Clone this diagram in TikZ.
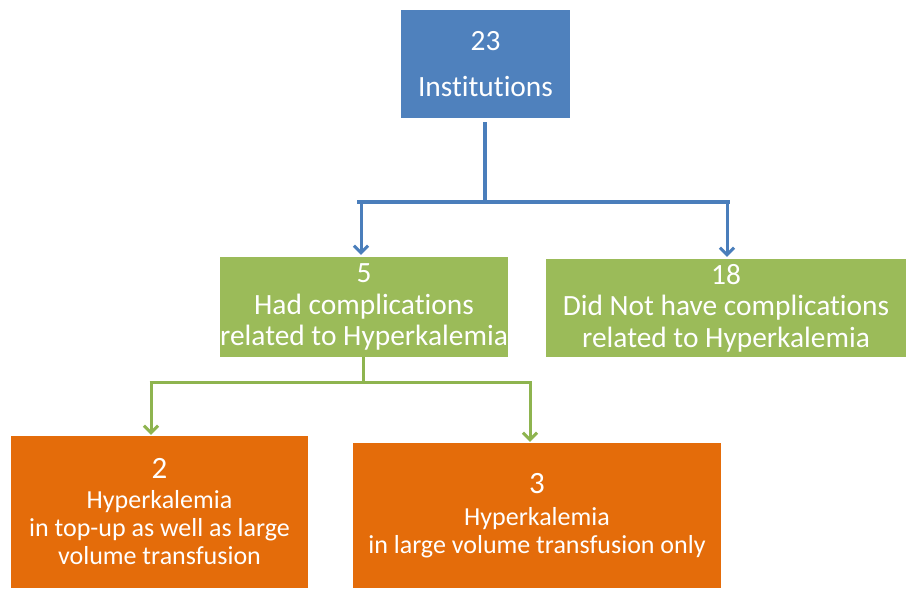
\documentclass[tikz,border=0pt]{standalone}
\usepackage{fontspec}
\setmainfont{Carlito}[RawFeature={-liga;-clig;-calt;-dlig;-rlig}]
\usetikzlibrary{arrows.meta}
\definecolor{cblue}{HTML}{4F81BD}
\definecolor{cgreen}{HTML}{9BBB59}
\definecolor{corange}{HTML}{E46C0A}
\definecolor{lblue}{HTML}{4A7EBB}
\definecolor{lgreen}{HTML}{8EB44F}
\begin{document}
\begin{tikzpicture}[x=1pt,y=1pt,
  box/.style={rectangle, inner sep=0pt, text=white, align=center},
  bline/.style={draw=lblue, line width=3.5pt},
  gline/.style={draw=lgreen, line width=3pt},
  barrow/.style={bline, line width=3pt, -{Straight Barb[length=7pt,width=14pt]}},
  garrow/.style={gline, -{Straight Barb[length=7pt,width=14pt]}},
  bigtxt/.style={font=\fontsize{29.4}{31.5}\selectfont},
  smalltxt/.style={font=\fontsize{26}{28}\selectfont}]
\useasboundingbox (0,0) rectangle (906,589);
\fill[white] (0,0) rectangle (906,589);
\node[box, fill=cblue, minimum width=169pt, minimum height=108pt, bigtxt] (top) at (485.5,525) {23\\[14pt]Institutions};
\node[box, fill=cgreen, minimum width=288pt, minimum height=100pt, bigtxt] (g1) at (364,282) {5\\Had complications\\related to Hyperkalemia};
\node[box, fill=cgreen, minimum width=360pt, minimum height=98pt, bigtxt] (g2) at (726,281) {18\\Did Not have complications\\related to Hyperkalemia};
\node[box, fill=corange, minimum width=297pt, minimum height=152pt, smalltxt] (oA) at (159.5,77) {{\fontsize{31}{31}\selectfont 2}\\[2pt]Hyperkalemia\\in top-up as well as large\\volume transfusion};
\node[box, fill=corange, minimum width=368pt, minimum height=145pt, smalltxt] (oB) at (537,73.5) {{\fontsize{31}{31}\selectfont 3}\\[4pt]Hyperkalemia\\in large volume transfusion only};
% blue connectors
\coordinate (bj) at (485,387);
\coordinate (bl) at (357,387);
\coordinate (br) at (730,387);
\coordinate (bla) at (361,387);
\coordinate (bra) at (727,387);
\draw[bline] ([yshift=-4pt]top.south -| bj) -- (bj);
\draw[bline] (bl) -- (br);
\draw[barrow] (bla) -- ([yshift=2pt]bla |- g1.north);
\draw[barrow] (bra) -- ([yshift=2pt]bra |- g2.north);
% green connectors
\coordinate (gj) at (363,206);
\coordinate (gl) at (151,206);
\coordinate (gr) at (530,206);
\draw[gline] (gj |- g1.south) -- (gj);
\draw[gline] ([xshift=-1.5pt]gl) -- ([xshift=1.5pt]gr);
\draw[garrow] (gl) -- ([yshift=1pt]gl |- oA.north);
\draw[garrow] (gr) -- ([yshift=1pt]gr |- oB.north);
\end{tikzpicture}
\end{document}
